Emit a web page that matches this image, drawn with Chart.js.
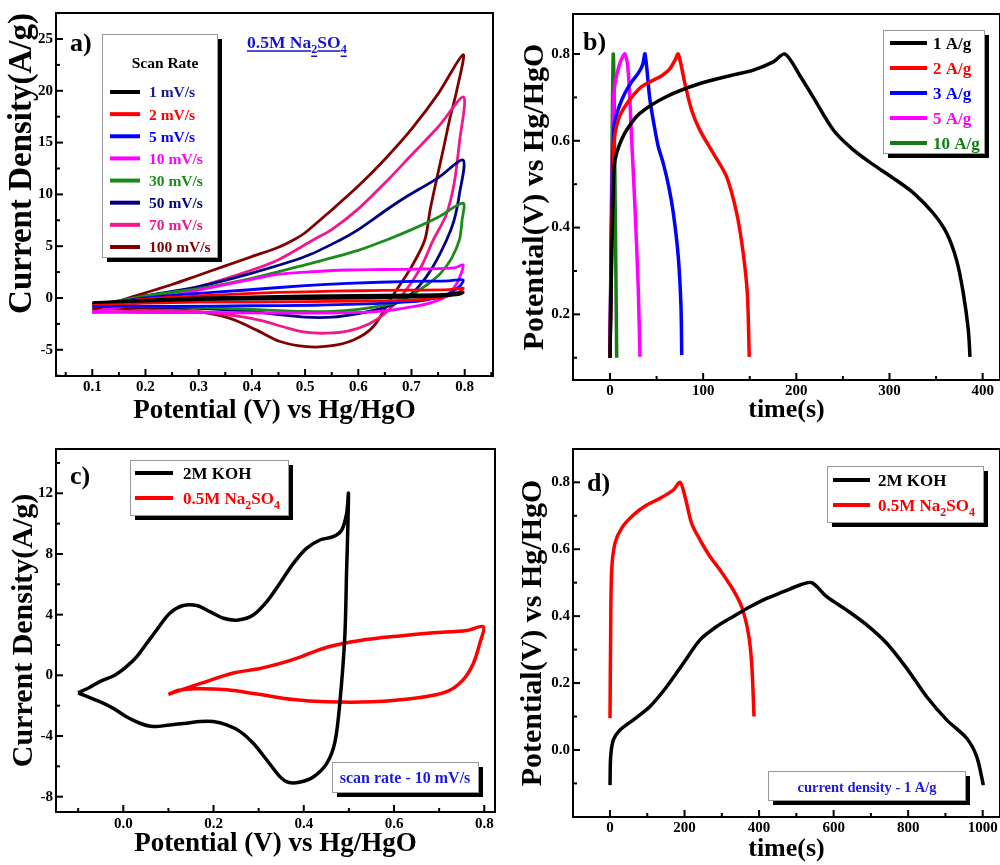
<!DOCTYPE html>
<html>
<head>
<meta charset="utf-8">
<script src="https://cdn.jsdelivr.net/npm/chart.js@4.4.1/dist/chart.umd.min.js"></script>
<style>
  body { margin: 0; background: #fff; }
  #wrap { position: relative; width: 1000px; height: 865px; }
  canvas { position: absolute; }
</style>
</head>
<body>
<div id="wrap">
  <canvas id="cvA" width="500" height="432" style="left:0;top:0"></canvas>
  <canvas id="cvB" width="500" height="432" style="left:500px;top:0"></canvas>
  <canvas id="cvC" width="500" height="433" style="left:0;top:432px"></canvas>
  <canvas id="cvD" width="500" height="433" style="left:500px;top:432px"></canvas>
</div>
<script>
// ---- panel a: CV at different scan rates, 0.5M Na2SO4 ----
var scanRates = ['1 mV/s', '2 mV/s', '5 mV/s', '10 mV/s', '30 mV/s', '50 mV/s', '70 mV/s', '100 mV/s'];
var cv1 = [[0.1,-0.45],[0.2,-0.2],[0.3,0.0],[0.4,0.1],[0.5,0.2],[0.6,0.25],[0.7,0.3],[0.77,0.38],[0.797,0.55],[0.79,0.35],[0.76,0.2],[0.7,0.08],[0.6,0.0],[0.5,-0.05],[0.4,-0.1],[0.3,-0.15],[0.2,-0.3],[0.1,-0.45]];
var cv2 = [[0.1,-0.6],[0.2,-0.1],[0.3,0.2],[0.4,0.45],[0.5,0.6],[0.6,0.7],[0.7,0.75],[0.77,0.8],[0.797,0.95],[0.79,0.6],[0.77,0.2],[0.74,-0.05],[0.7,-0.2],[0.6,-0.3],[0.5,-0.35],[0.4,-0.4],[0.3,-0.4],[0.2,-0.5],[0.1,-0.6]];
var cv5 = [[0.1,-0.75],[0.2,0.0],[0.3,0.45],[0.39,0.77],[0.5,1.2],[0.58,1.42],[0.7,1.6],[0.77,1.65],[0.797,1.75],[0.79,1.1],[0.766,0.3],[0.735,-0.1],[0.703,-0.35],[0.6,-0.6],[0.515,-0.7],[0.4,-0.75],[0.25,-0.8],[0.1,-0.75]];
var cv10 = [[0.1,-1.35],[0.15,-0.9],[0.2,-0.35],[0.25,0.2],[0.3,0.75],[0.35,1.3],[0.4,1.8],[0.45,2.3],[0.5,2.5],[0.58,2.7],[0.65,2.75],[0.72,2.8],[0.78,2.9],[0.797,3.2],[0.795,2.6],[0.785,1.4],[0.766,0.2],[0.74,-0.4],[0.703,-0.84],[0.64,-1.3],[0.55,-1.45],[0.45,-1.45],[0.3,-1.4],[0.2,-1.4],[0.1,-1.35]];
var cv30 = [[0.1,-0.75],[0.2,0.2],[0.3,0.9],[0.4,1.9],[0.5,3.2],[0.6,4.6],[0.653,5.6],[0.7,6.6],[0.75,7.8],[0.797,9.15],[0.795,7.5],[0.79,5.6],[0.775,3.8],[0.755,2.4],[0.735,1.5],[0.71,0.6],[0.685,-0.2],[0.65,-0.7],[0.6,-1.1],[0.55,-1.3],[0.5,-1.3],[0.4,-1.1],[0.3,-0.9],[0.2,-0.8],[0.1,-0.75]];
var cv50 = [[0.1,-0.8],[0.2,0.2],[0.3,1.1],[0.4,2.4],[0.5,4.0],[0.566,5.6],[0.6,6.6],[0.65,8.4],[0.685,9.6],[0.75,11.6],[0.797,13.3],[0.79,10],[0.78,7.5],[0.766,5.6],[0.74,3.0],[0.715,1.2],[0.69,0],[0.65,-0.9],[0.6,-1.5],[0.55,-1.85],[0.5,-1.85],[0.45,-1.6],[0.4,-1.3],[0.3,-1.0],[0.2,-0.85],[0.1,-0.8]];
var cv70 = [[0.1,-1.4],[0.2,-0.1],[0.3,1.1],[0.4,2.7],[0.45,3.7],[0.515,5.6],[0.55,6.6],[0.6,8.6],[0.65,11.1],[0.7,13.8],[0.75,16.5],[0.798,19.4],[0.79,15],[0.78,11],[0.765,8],[0.741,5.6],[0.72,3.2],[0.7,1.5],[0.678,0],[0.65,-1.5],[0.62,-2.5],[0.58,-3.2],[0.54,-3.4],[0.5,-3.3],[0.46,-2.8],[0.42,-2.2],[0.38,-1.8],[0.32,-1.4],[0.25,-1.2],[0.1,-1.4]];
var cv100 = [[0.1,-1.1],[0.15,-0.3],[0.2,0.5],[0.25,1.3],[0.3,2.2],[0.35,3.1],[0.4,4.0],[0.45,4.9],[0.478,5.6],[0.5,6.3],[0.55,8.5],[0.6,10.8],[0.65,13.4],[0.7,16.3],[0.75,19.7],[0.797,23.5],[0.785,20],[0.772,17.3],[0.76,14.4],[0.747,11.4],[0.735,8.5],[0.725,5.6],[0.7,3.0],[0.68,1.4],[0.662,0],[0.628,-2.77],[0.591,-4.05],[0.547,-4.63],[0.503,-4.7],[0.453,-4.2],[0.409,-3.1],[0.359,-1.96],[0.296,-1.32],[0.2,-1.0],[0.1,-1.1]];
var aXTicks = [0.1, 0.2, 0.3, 0.4, 0.5, 0.6, 0.7, 0.8];
var aYTicks = [-5, 0, 5, 10, 15, 20, 25];

// ---- panel b: charge-discharge at different current densities ----
var currents = ['1 A/g', '2 A/g', '3 A/g', '5 A/g', '10 A/g'];
var gcd1 = [[0,0.1],[2,0.35],[4,0.52],[5.4,0.556],[10,0.59],[17.9,0.625],[32,0.663],[60.8,0.702],[96.6,0.732],[132.4,0.752],[153.8,0.763],[175.3,0.782],[187.8,0.8],[203.9,0.75],[218.2,0.7],[239.7,0.625],[261.2,0.579],[282.6,0.545],[304,0.514],[325.6,0.48],[347,0.433],[361.4,0.387],[372,0.325],[379.2,0.249],[384.6,0.164],[386.4,0.102]];
var gcd2 = [[0,0.1],[2,0.4],[4,0.58],[5.4,0.617],[10,0.655],[16.1,0.679],[25,0.705],[34,0.725],[45,0.738],[55.5,0.75],[64,0.765],[69.8,0.786],[73.3,0.8],[80.5,0.731],[87.7,0.67],[96.6,0.624],[110.9,0.571],[125.2,0.517],[136,0.433],[143,0.341],[147.4,0.248],[149.5,0.102]];
var gcd3 = [[0,0.1],[2,0.45],[4,0.62],[5.4,0.648],[10,0.68],[16.1,0.71],[23,0.735],[30.4,0.756],[35,0.775],[37.6,0.8],[42.9,0.694],[48.3,0.625],[52,0.585],[57.2,0.548],[63,0.495],[68,0.433],[73.3,0.333],[76.2,0.218],[77,0.106]];
var gcd5 = [[0,0.1],[2,0.5],[4,0.7],[5.4,0.732],[10.7,0.779],[16.1,0.8],[19.7,0.756],[23.3,0.6],[26.8,0.448],[30.4,0.256],[32.2,0.102]];
var gcd10 = [[0,0.1],[1.8,0.5],[3.6,0.8],[5.6,0.45],[7.2,0.1]];
var bXTicks = [0, 100, 200, 300, 400];
var bYTicks = [0.2, 0.4, 0.6, 0.8];

// ---- panel c: CV in two electrolytes at 10 mV/s ----
var electrolytes = ['2M KOH', '0.5M Na₂SO₄'];
var cvKoh = [[-0.1,-1.15],[-0.075,-0.8],[-0.052,-0.42],[-0.018,0.02],[0.007,0.57],[0.03,1.23],[0.052,2.11],[0.074,2.99],[0.103,4.09],[0.133,4.6],[0.163,4.6],[0.192,4.2],[0.222,3.76],[0.255,3.65],[0.288,3.98],[0.318,4.86],[0.347,6.07],[0.377,7.38],[0.406,8.37],[0.436,8.92],[0.465,9.14],[0.484,9.58],[0.495,10.68],[0.499,12.0],[0.497,9.0],[0.495,7.0],[0.491,2.6],[0.48,-1.8],[0.469,-4.4],[0.451,-5.8],[0.421,-6.7],[0.39,-7.05],[0.365,-7.05],[0.347,-6.68],[0.318,-5.58],[0.288,-4.48],[0.259,-3.71],[0.229,-3.27],[0.199,-3.05],[0.17,-3.05],[0.14,-3.16],[0.103,-3.27],[0.066,-3.38],[0.037,-3.16],[0.007,-2.73],[-0.022,-2.18],[-0.052,-1.74],[-0.1,-1.15]];
var cvNa = [[0.1,-1.25],[0.17,-0.55],[0.244,0.15],[0.303,0.45],[0.35,0.8],[0.392,1.2],[0.451,1.85],[0.525,2.3],[0.613,2.6],[0.687,2.8],[0.761,2.95],[0.798,3.21],[0.79,2.1],[0.776,0.8],[0.753,-0.3],[0.717,-1.08],[0.65,-1.5],[0.55,-1.75],[0.45,-1.75],[0.377,-1.6],[0.3,-1.25],[0.23,-0.95],[0.16,-0.88],[0.12,-1.0],[0.1,-1.25]];
var cXTicks = [0, 0.2, 0.4, 0.6, 0.8];
var cYTicks = [-8, -4, 0, 4, 8, 12];

// ---- panel d: charge-discharge in two electrolytes at 1 A/g ----
var gcdKoh = [[0,-0.105],[1.8,-0.02],[8.9,0.03],[26.8,0.06],[62.6,0.09],[107.3,0.13],[152,0.189],[196.8,0.259],[241.5,0.329],[286.2,0.369],[330.9,0.399],[375.7,0.428],[420.4,0.453],[465.1,0.473],[509.8,0.493],[541.1,0.5],[581.4,0.458],[635.1,0.418],[688.7,0.374],[742.4,0.319],[796.1,0.244],[849.7,0.159],[903.4,0.09],[957,0.035],[983.9,-0.02],[1001.8,-0.105]];
var gcdNa = [[0,0.095],[1.8,0.359],[4.5,0.538],[13.4,0.618],[31.3,0.663],[62.6,0.702],[98.4,0.732],[134.2,0.752],[170,0.777],[187.8,0.8],[201.3,0.757],[219.1,0.677],[241.5,0.628],[268.3,0.578],[295.2,0.538],[330.9,0.478],[353.3,0.428],[371.2,0.349],[380.1,0.259],[386.4,0.1]];
var dXTicks = [0, 200, 400, 600, 800, 1000];
var dYTicks = [0, 0.2, 0.4, 0.6, 0.8];

var FONT = "'Liberation Serif', 'Times New Roman', serif";
Chart.defaults.font.family = FONT;
Chart.defaults.font.weight = 'bold';
Chart.defaults.color = '#000';

var SUBS = '₀₁₂₃₄₅₆₇₈₉';

// text with subscript digits drawn smaller and lower
function richText(ctx, text, x, y, size, color, align, underline) {
    var runs = [];
    for (var ch of text) {
        var k = SUBS.indexOf(ch);
        var isSub = k >= 0;
        var c = isSub ? String(k) : ch;
        if (runs.length && runs[runs.length - 1].sub === isSub) runs[runs.length - 1].t += c;
        else runs.push({t: c, sub: isSub});
    }
    var total = 0;
    runs.forEach(function (r) {
        ctx.font = 'bold ' + (r.sub ? size * 0.7 : size) + 'px ' + FONT;
        r.w = ctx.measureText(r.t).width;
        total += r.w;
    });
    var cx = align === 'center' ? x - total / 2 : x;
    ctx.fillStyle = color;
    ctx.strokeStyle = color;
    ctx.textAlign = 'left';
    ctx.textBaseline = 'alphabetic';
    runs.forEach(function (r) {
        var by = r.sub ? y + size * 0.3 : y;
        ctx.font = 'bold ' + (r.sub ? size * 0.7 : size) + 'px ' + FONT;
        ctx.fillText(r.t, cx, by);
        if (underline) {
            ctx.lineWidth = 1.5;
            ctx.beginPath();
            ctx.moveTo(cx, by + 3);
            ctx.lineTo(cx + r.w, by + 3);
            ctx.stroke();
        }
        cx += r.w;
    });
}

function shadowBox(ctx, b) {
    ctx.fillStyle = '#000';
    ctx.fillRect(b.x + 5, b.y + 5, b.w, b.h);
    ctx.fillStyle = '#fff';
    ctx.fillRect(b.x, b.y, b.w, b.h);
    ctx.strokeStyle = '#999';
    ctx.lineWidth = 1;
    ctx.strokeRect(b.x + 0.5, b.y + 0.5, b.w, b.h);
}

// frame, inward ticks, panel letter, legend box and notes
function decor(cfg) {
    return {
        id: 'decor',
        afterDraw: function (chart) {
            var ctx = chart.ctx, a = chart.chartArea;
            ctx.save();
            ctx.strokeStyle = '#000';
            ctx.lineWidth = 2;
            ['x', 'y'].forEach(function (id) {
                var s = chart.scales[id];
                var vals = s.ticks.map(function (t) { return t.value; });
                var step = vals[1] - vals[0];
                var mark = function (v, len) {
                    var p = s.getPixelForValue(v);
                    ctx.beginPath();
                    if (id === 'x') { ctx.moveTo(p, a.bottom); ctx.lineTo(p, a.bottom - len); }
                    else { ctx.moveTo(a.left, p); ctx.lineTo(a.left + len, p); }
                    ctx.stroke();
                };
                vals.forEach(function (v) { mark(v, 7); });
                for (var i = -1; i < vals.length; i++) {
                    var m = vals[0] + (i + 0.5) * step;
                    if (m > s.min && m < s.max) mark(m, 4);
                }
            });
            ctx.lineWidth = 2;
            ctx.strokeRect(a.left, a.top, a.right - a.left, a.bottom - a.top);

            richText(ctx, cfg.tag.text, cfg.tag.x, cfg.tag.y, 26, '#000', 'left');

            var lg = cfg.legend;
            shadowBox(ctx, lg.box);
            if (lg.title) richText(ctx, lg.title, lg.titleX, lg.titleY, lg.titleSize, '#000', 'center');
            chart.data.datasets.forEach(function (ds, i) {
                var y = lg.rowY + i * lg.rowGap;
                ctx.strokeStyle = ds.borderColor;
                ctx.lineWidth = 4;
                ctx.beginPath();
                ctx.moveTo(lg.lineX0, y);
                ctx.lineTo(lg.lineX1, y);
                ctx.stroke();
                richText(ctx, ds.label, lg.textX, y + lg.size * 0.35, lg.size,
                    lg.textColors ? lg.textColors[i] : ds.borderColor, 'left');
            });

            (cfg.notes || []).forEach(function (n) {
                if (n.box) shadowBox(ctx, n.box);
                richText(ctx, n.text, n.x, n.y, n.size, n.color, n.align, n.underline);
            });
            ctx.restore();
        }
    };
}

function makeChart(id, series, labels, colors, ax, cfg) {
    var toPts = function (pts) { return pts.map(function (p) { return {x: p[0], y: p[1]}; }); };
    return new Chart(document.getElementById(id), {
        type: 'scatter',
        data: {
            datasets: series.map(function (pts, i) {
                return {
                    label: labels[i],
                    data: toPts(pts),
                    borderColor: colors[i],
                    backgroundColor: colors[i],
                    showLine: true,
                    pointRadius: 0,
                    borderWidth: ax.lw,
                    tension: 0.3
                };
            })
        },
        options: {
            responsive: false,
            animation: false,
            layout: {padding: ax.pad, autoPadding: false},
            plugins: {legend: {display: false}, tooltip: {enabled: false}},
            scales: {
                x: {
                    type: 'linear', min: ax.x[0], max: ax.x[1],
                    afterBuildTicks: function (s) { s.ticks = ax.xTicks.map(function (v) { return {value: v}; }); },
                    afterFit: function (s) { s.height = ax.xh; },
                    grid: {display: false, drawTicks: false},
                    border: {display: false},
                    ticks: {font: {size: 15, weight: 'bold'}, color: '#000', padding: ax.xPad, maxRotation: 0, autoSkip: false, callback: ax.xFmt},
                    title: {display: true, text: ax.xTitle, color: '#000', font: {size: ax.xTitleSize, weight: 'bold', lineHeight: 1.2}, padding: {top: 0, bottom: ax.xTitlePad}}
                },
                y: {
                    type: 'linear', min: ax.y[0], max: ax.y[1],
                    afterBuildTicks: function (s) { s.ticks = ax.yTicks.map(function (v) { return {value: v}; }); },
                    afterFit: function (s) { s.width = ax.yw; },
                    grid: {display: false, drawTicks: false},
                    border: {display: false},
                    ticks: {font: {size: 15, weight: 'bold'}, color: '#000', padding: 3, autoSkip: false, callback: ax.yFmt},
                    title: {display: true, text: ax.yTitle, color: '#000', align: ax.yAlign || 'center', font: {size: ax.yTitleSize, weight: 'bold', lineHeight: 1.2}, padding: {top: ax.yTitlePad, bottom: 0}}
                }
            }
        },
        plugins: [decor(cfg)]
    });
}

var fix1 = function (v) { return Number(v).toFixed(1); };
var int0 = function (v) { return String(Math.round(v)); };

makeChart('cvA', [cv1, cv2, cv5, cv10, cv30, cv50, cv70, cv100], scanRates,
    ['#000000', '#ff0000', '#0000ff', '#ff00ff', '#1a8c1a', '#000080', '#f0188c', '#800000'],
    {x: [0.0318, 0.8532], y: [-7.53, 27.51], xTicks: aXTicks, yTicks: aYTicks, xFmt: fix1, yFmt: int0,
     pad: {top: 13, right: 7, left: 0, bottom: 0}, xh: 56, yw: 56, lw: 2.8, xPad: 2,
     xTitle: 'Potential (V) vs Hg/HgO', xTitleSize: 27, xTitlePad: 5,
     yTitle: 'Current Density(A/g)', yTitleSize: 33, yTitlePad: 3, yAlign: 'end'},
    {tag: {text: 'a)', x: 70, y: 51},
     legend: {box: {x: 102, y: 34, w: 115, h: 223}, title: 'Scan Rate', titleX: 165, titleY: 68, titleSize: 15.5,
              rowY: 92, rowGap: 22.14, lineX0: 110, lineX1: 140, textX: 149, size: 15.5,
              textColors: ['#1a1a8c', '#ff0000', '#0000ff', '#ff00ff', '#1a8c1a', '#000080', '#f0188c', '#800000']},
     notes: [{text: '0.5M Na₂SO₄', x: 247, y: 48, size: 17.5, color: '#1515d0', align: 'left', underline: true}]});

makeChart('cvB', [gcd1, gcd2, gcd3, gcd5, gcd10], currents,
    ['#000000', '#ff0000', '#0000ff', '#ff00ff', '#0f7f0f'],
    {x: [-39.7, 418.6], y: [0.0487, 0.8922], xTicks: bXTicks, yTicks: bYTicks, xFmt: int0, yFmt: fix1,
     pad: {top: 14, right: 0, left: 0, bottom: 0}, xh: 52, yw: 73, lw: 3.5, xPad: 2,
     xTitle: 'time(s)', xTitleSize: 26, xTitlePad: 6,
     yTitle: 'Potential(V) vs Hg/HgO', yTitleSize: 30, yTitlePad: 17},
    {tag: {text: 'b)', x: 83, y: 50},
     legend: {box: {x: 383, y: 30, w: 101, h: 123}, rowY: 43, rowGap: 25, lineX0: 390, lineX1: 427, textX: 433, size: 17}});

makeChart('cvC', [cvKoh, cvNa], electrolytes,
    ['#000000', '#ff0000'],
    {x: [-0.1491, 0.8238], y: [-9.01, 14.92], xTicks: cXTicks, yTicks: cYTicks, xFmt: fix1, yFmt: int0,
     pad: {top: 17, right: 5, left: 0, bottom: 0}, xh: 53, yw: 56, lw: 3.5, xPad: 3,
     xTitle: 'Potential (V) vs Hg/HgO', xTitleSize: 27, xTitlePad: 5,
     yTitle: 'Current Density(A/g)', yTitleSize: 30, yTitlePad: 6},
    {tag: {text: 'c)', x: 70, y: 52},
     legend: {box: {x: 130, y: 28, w: 158, h: 55}, rowY: 41, rowGap: 25, lineX0: 135, lineX1: 173, textX: 183, size: 17},
     notes: [{text: 'scan rate - 10 mV/s', x: 405, y: 351, size: 16, color: '#1a1ae0', align: 'center',
              box: {x: 332, y: 330, w: 146, h: 30}}]});

makeChart('cvD', [gcdKoh, gcdNa], electrolytes,
    ['#000000', '#ff0000'],
    {x: [-99.3, 1046.4], y: [-0.2003, 0.8995], xTicks: dXTicks, yTicks: dYTicks, xFmt: int0, yFmt: fix1,
     pad: {top: 17, right: 0, left: 0, bottom: 0}, xh: 48, yw: 73, lw: 3.5, xPad: 2,
     xTitle: 'time(s)', xTitleSize: 26, xTitlePad: 0,
     yTitle: 'Potential(V) vs Hg/HgO', yTitleSize: 30, yTitlePad: 15},
    {tag: {text: 'd)', x: 87, y: 59},
     legend: {box: {x: 327, y: 34, w: 156, h: 56}, rowY: 48, rowGap: 25, lineX0: 333, lineX1: 370, textX: 378, size: 17},
     notes: [{text: 'current density - 1 A/g', x: 367, y: 360, size: 14.5, color: '#1a1ae0', align: 'center',
              box: {x: 268, y: 339, w: 197, h: 29}}]});
</script>
</body>
</html>
